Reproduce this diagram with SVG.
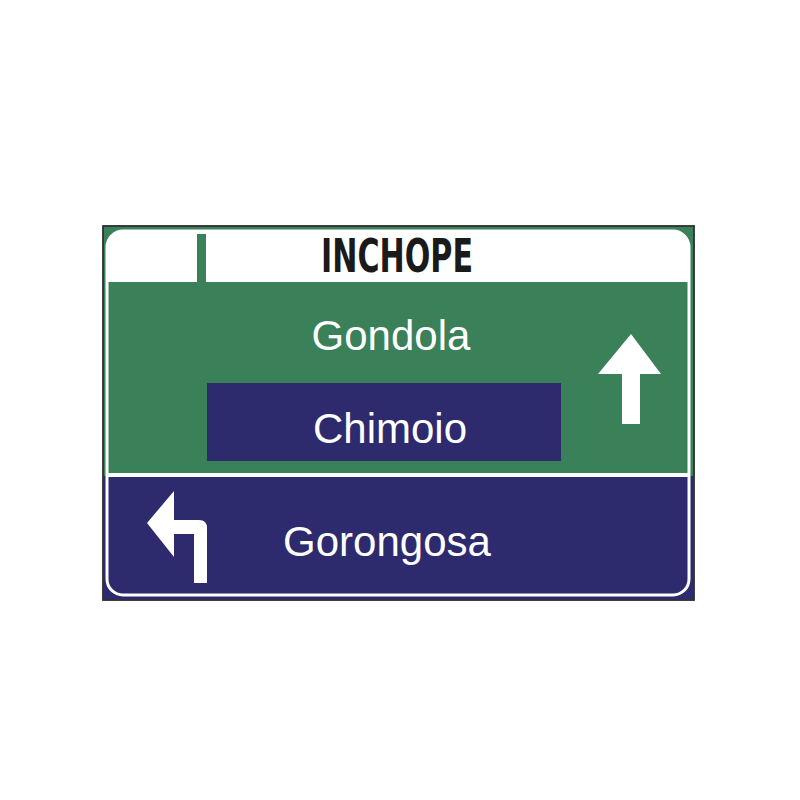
<svg xmlns="http://www.w3.org/2000/svg" width="800" height="800" viewBox="0 0 800 800">
  <style>
    .lbl { font-family: "Liberation Sans", Arial, sans-serif; fill: #ffffff; font-size: 42px; text-anchor: middle; }
    .head { font-family: "Liberation Sans Narrow", "DejaVu Sans Condensed", "Liberation Sans", sans-serif; font-weight: bold; fill: #1a1a1a; font-size: 46px; }
    .wht { fill: #ffffff; }
  </style>
  <rect width="800" height="800" fill="#ffffff"/>
  <g id="sign">
    <rect x="103" y="226" width="591" height="374" fill="#3a8058" stroke="#2e3a33" stroke-width="1.5"/>
    <rect x="103" y="476" width="591" height="124" fill="#2d2a6e"/>
    <rect x="103" y="226" width="591" height="374" fill="none" stroke="#333333" stroke-width="1.5"/>
    <path d="M107,282 L107,247 Q107,232 122,232 L674,232 Q689,232 689,247 L689,282 Z" class="wht"/>
    <rect x="197" y="234" width="9" height="48" fill="#3a8058"/>
    <rect x="107" y="473" width="582" height="4" class="wht"/>
    <rect x="107" y="231" width="582" height="364" rx="16" fill="none" stroke="#ffffff" stroke-width="3"/>
  </g>
  <g id="header">
    <text x="321" y="272" class="head" textLength="152" lengthAdjust="spacingAndGlyphs">INCHOPE</text>
  </g>
  <g id="gondola">
    <text x="391" y="350" class="lbl">Gondola</text>
  </g>
  <g id="up-arrow">
    <polygon points="631,334 661,374 640,374 640,424 622,424 622,374 598,374" class="wht"/>
  </g>
  <g id="chimoio">
    <rect x="207" y="383" width="354" height="78" fill="#2d2a6e"/>
    <text x="390" y="443" class="lbl">Chimoio</text>
  </g>
  <g id="gorongosa">
    <text x="387" y="556" class="lbl">Gorongosa</text>
  </g>
  <g id="left-arrow">
    <path d="M207,583 L194,583 L194,534 L174,534 L174,557 L147,523 L174,491 L174,520 L199,520 Q207,520 207,528 Z" class="wht"/>
  </g>
  <g id="connectors"></g>
</svg>
